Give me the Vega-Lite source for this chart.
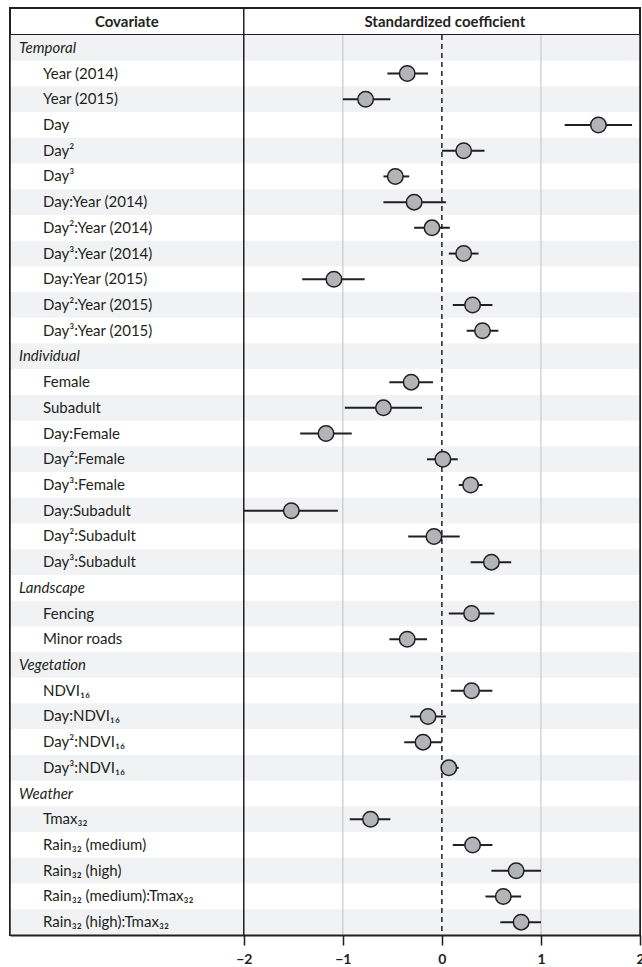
{
  "$schema": "https://vega.github.io/schema/vega-lite/v6.json",
  "padding": {"left": 8, "top": 6, "right": 0, "bottom": 0},
  "background": "white",
  "spacing": 0,
  "bounds": "flush",
  "config": {
    "view": {"stroke": "#231f20", "strokeWidth": 2},
    "font": "Lato",
    "text": {"font": "Lato", "color": "#231f20"}
  },
  "vconcat": [
    {
      "width": 630,
      "height": 27,
      "data": {"values": [{"header": "Covariate"}, {"header": "Standardized coefficient"}]},
      "layer": [
        {
          "data": {"values": [{"ref": -2}]},
          "mark": {"type": "rule", "color": "#231f20", "strokeWidth": 1.5},
          "encoding": {
            "x": {"field": "ref", "type": "quantitative", "scale": {"domain": [-4.36, 2], "nice": false, "zero": false}, "axis": null}
          }
        },
        {
          "transform": [{"filter": "datum.header == 'Covariate'"}],
          "mark": {"type": "text", "fontWeight": "bold", "fontSize": 15},
          "encoding": {
            "x": {"datum": -3.18, "type": "quantitative", "axis": null},
            "text": {"field": "header"}
          }
        },
        {
          "transform": [{"filter": "datum.header == 'Standardized coefficient'"}],
          "mark": {"type": "text", "fontWeight": "bold", "fontSize": 15},
          "encoding": {
            "x": {"datum": 0.03, "type": "quantitative", "axis": null},
            "text": {"field": "header"}
          }
        }
      ]
    },
    {
      "width": 630,
      "height": 900,
      "data": {"values": [
        {"label": "Temporal", "kind": "group"},
        {"label": "Year (2014)", "kind": "item", "est": -0.35, "lo": -0.55, "hi": -0.14},
        {"label": "Year (2015)", "kind": "item", "est": -0.77, "lo": -1.0, "hi": -0.52},
        {"label": "Day", "kind": "item", "est": 1.58, "lo": 1.24, "hi": 1.92},
        {"label": "Day²", "kind": "item", "est": 0.22, "lo": 0.0, "hi": 0.43},
        {"label": "Day³", "kind": "item", "est": -0.47, "lo": -0.59, "hi": -0.33},
        {"label": "Day:Year (2014)", "kind": "item", "est": -0.28, "lo": -0.59, "hi": 0.04},
        {"label": "Day²:Year (2014)", "kind": "item", "est": -0.1, "lo": -0.28, "hi": 0.08},
        {"label": "Day³:Year (2014)", "kind": "item", "est": 0.22, "lo": 0.07, "hi": 0.37},
        {"label": "Day:Year (2015)", "kind": "item", "est": -1.09, "lo": -1.41, "hi": -0.78},
        {"label": "Day²:Year (2015)", "kind": "item", "est": 0.31, "lo": 0.11, "hi": 0.51},
        {"label": "Day³:Year (2015)", "kind": "item", "est": 0.41, "lo": 0.25, "hi": 0.57},
        {"label": "Individual", "kind": "group"},
        {"label": "Female", "kind": "item", "est": -0.31, "lo": -0.53, "hi": -0.09},
        {"label": "Subadult", "kind": "item", "est": -0.59, "lo": -0.98, "hi": -0.2},
        {"label": "Day:Female", "kind": "item", "est": -1.17, "lo": -1.43, "hi": -0.91},
        {"label": "Day²:Female", "kind": "item", "est": 0.01, "lo": -0.15, "hi": 0.16},
        {"label": "Day³:Female", "kind": "item", "est": 0.29, "lo": 0.17, "hi": 0.41},
        {"label": "Day:Subadult", "kind": "item", "est": -1.52, "lo": -2.0, "hi": -1.05},
        {"label": "Day²:Subadult", "kind": "item", "est": -0.08, "lo": -0.34, "hi": 0.18},
        {"label": "Day³:Subadult", "kind": "item", "est": 0.5, "lo": 0.29, "hi": 0.7},
        {"label": "Landscape", "kind": "group"},
        {"label": "Fencing", "kind": "item", "est": 0.3, "lo": 0.07, "hi": 0.53},
        {"label": "Minor roads", "kind": "item", "est": -0.35, "lo": -0.53, "hi": -0.15},
        {"label": "Vegetation", "kind": "group"},
        {"label": "NDVI₁₆", "kind": "item", "est": 0.3, "lo": 0.09, "hi": 0.51},
        {"label": "Day:NDVI₁₆", "kind": "item", "est": -0.14, "lo": -0.32, "hi": 0.04},
        {"label": "Day²:NDVI₁₆", "kind": "item", "est": -0.19, "lo": -0.38, "hi": 0.0},
        {"label": "Day³:NDVI₁₆", "kind": "item", "est": 0.07, "lo": -0.01, "hi": 0.17},
        {"label": "Weather", "kind": "group"},
        {"label": "Tmax₃₂", "kind": "item", "est": -0.72, "lo": -0.93, "hi": -0.52},
        {"label": "Rain₃₂ (medium)", "kind": "item", "est": 0.31, "lo": 0.11, "hi": 0.51},
        {"label": "Rain₃₂ (high)", "kind": "item", "est": 0.75, "lo": 0.5, "hi": 1.0},
        {"label": "Rain₃₂ (medium):Tmax₃₂", "kind": "item", "est": 0.62, "lo": 0.44, "hi": 0.8},
        {"label": "Rain₃₂ (high):Tmax₃₂", "kind": "item", "est": 0.8, "lo": 0.59, "hi": 1.0}
      ]},
      "transform": [{"window": [{"op": "row_number", "as": "rn"}]}],
      "layer": [
        {
          "mark": {"type": "rect"},
          "encoding": {
            "y": {"field": "label", "type": "nominal", "sort": null, "scale": {"paddingInner": 0, "paddingOuter": 0}, "axis": null},
            "x": {"datum": -4.36, "type": "quantitative", "scale": {"domain": [-4.36, 2], "nice": false, "zero": false},
              "axis": {"values": [-2, -1, 0, 1, 2], "format": "d", "grid": false, "domain": true, "domainColor": "#231f20", "domainWidth": 2,
                "ticks": true, "tickSize": 10, "tickColor": "#231f20", "tickWidth": 1.5,
                "labelFont": "Lato", "labelFontSize": 14, "labelFontWeight": "bold", "labelColor": "#231f20",
                "labelPadding": 7, "labelFlush": false, "labelOverlap": false, "title": null, "zindex": 1}},
            "x2": {"datum": 2},
            "color": {"condition": {"test": "datum.rn % 2 == 1", "value": "#f1f2f4"}, "value": "#ffffff"}
          }
        },
        {
          "data": {"values": [{"ref": -1}, {"ref": 1}]},
          "mark": {"type": "rule", "color": "#c8c8c8", "strokeWidth": 1.2},
          "encoding": {"x": {"field": "ref", "type": "quantitative"}}
        },
        {
          "data": {"values": [{"ref": 0}]},
          "mark": {"type": "rule", "color": "#231f20", "strokeWidth": 1.5, "strokeDash": [5, 4]},
          "encoding": {"x": {"field": "ref", "type": "quantitative"}}
        },
        {
          "data": {"values": [{"ref": -4.36}, {"ref": -2}, {"ref": 2}]},
          "mark": {"type": "rule", "color": "#231f20", "strokeWidth": 1.5},
          "encoding": {"x": {"field": "ref", "type": "quantitative"}}
        },
        {
          "transform": [{"filter": "isValid(datum.est)"}],
          "mark": {"type": "rule", "color": "#231f20", "strokeWidth": 2},
          "encoding": {
            "y": {"field": "label", "type": "nominal", "sort": null},
            "x": {"field": "lo", "type": "quantitative"},
            "x2": {"field": "hi"}
          }
        },
        {
          "transform": [{"filter": "isValid(datum.est)"}],
          "mark": {"type": "point", "filled": true, "fill": "#b3b4b7", "stroke": "#231f20", "strokeWidth": 1.5, "size": 240, "opacity": 1},
          "encoding": {
            "y": {"field": "label", "type": "nominal", "sort": null},
            "x": {"field": "est", "type": "quantitative"}
          }
        },
        {
          "transform": [{"filter": "datum.kind == 'group'"}],
          "mark": {"type": "text", "align": "left", "dx": 9, "fontStyle": "italic", "fontSize": 15},
          "encoding": {
            "y": {"field": "label", "type": "nominal", "sort": null},
            "x": {"datum": -4.36, "type": "quantitative"},
            "text": {"field": "label"}
          }
        },
        {
          "transform": [{"filter": "datum.kind == 'item'"}],
          "mark": {"type": "text", "align": "left", "dx": 33, "fontSize": 15},
          "encoding": {
            "y": {"field": "label", "type": "nominal", "sort": null},
            "x": {"datum": -4.36, "type": "quantitative"},
            "text": {"field": "label"}
          }
        }
      ]
    }
  ]
}
